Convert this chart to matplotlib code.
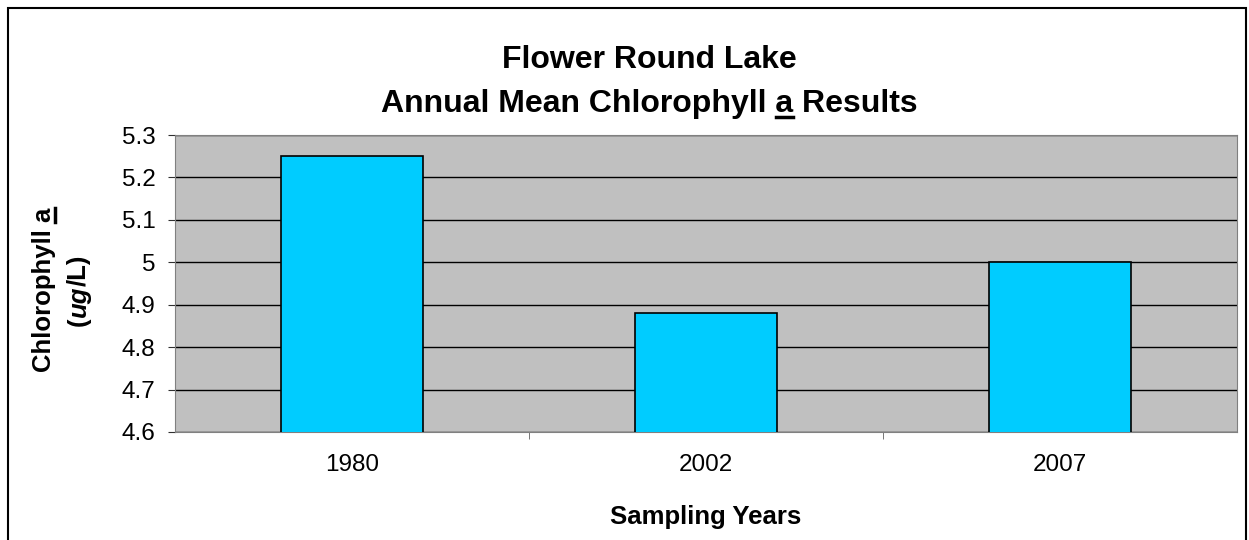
import matplotlib.pyplot as plt
from matplotlib.patches import Rectangle
from matplotlib.lines import Line2D

plt.rcParams['font.family'] = ['Liberation Sans', 'DejaVu Sans']

years = ['1980', '2002', '2007']
chl_a = [5.25, 4.88, 5.0]
y_ticks = [4.6, 4.7, 4.8, 4.9, 5.0, 5.1, 5.2, 5.3]
y_tick_labels = ['4.6', '4.7', '4.8', '4.9', '5', '5.1', '5.2', '5.3']

TICK_FS = 17.5
TITLE_FS = 23
LABEL_FS = 18.5

fig = plt.figure(figsize=(12.49, 5.4), dpi=100)
ax = fig.add_axes([175 / 1249, 108 / 540, 1062 / 1249, 297 / 540])
ax.set_facecolor('#C0C0C0')

x = range(len(years))
ax.bar(x, chl_a, width=0.4, color='#00CCFF', edgecolor='black', linewidth=1.2, zorder=3)

ax.set_ylim(4.6, 5.3)
ax.set_xlim(-0.5, len(years) - 0.5)
ax.set_yticks(y_ticks)
ax.set_yticklabels(y_tick_labels, fontsize=TICK_FS)
ax.yaxis.grid(True, color='black', linewidth=1, zorder=1)
ax.set_axisbelow(True)

# category labels centred, tick marks at category boundaries
ax.set_xticks(list(x))
ax.set_xticklabels(years, fontsize=TICK_FS)
ax.tick_params(axis='x', length=0, pad=16)
ax.set_xticks([0.5, 1.5], minor=True)
ax.tick_params(axis='x', which='minor', length=5, color='#606060')
ax.tick_params(axis='y', length=5, color='#303030', pad=9)
for s in ax.spines.values():
    s.set_color('#808080')

# outer frame
fig.patches.append(Rectangle((8 / 1249, -0.05), 1238 / 1249, 1 - 8 / 540 + 0.05,
                             transform=fig.transFigure, fill=False,
                             edgecolor='black', linewidth=1.5))

fig.text(0.52, 1 - 60 / 540, 'Flower Round Lake', fontsize=TITLE_FS, fontweight='bold',
         ha='center', va='center')
t2 = fig.text(0.52, 1 - 104 / 540, 'Annual Mean Chlorophyll a Results', fontsize=TITLE_FS,
              fontweight='bold', ha='center', va='center')

fig.text(0.565, 1 - 517 / 540, 'Sampling Years', fontsize=LABEL_FS, fontweight='bold',
         ha='center', va='center')

yl1 = fig.text(44 / 1249, 0.463, 'Chlorophyll a', fontsize=LABEL_FS, fontweight='bold',
               rotation=90, ha='center', va='center')

fig.canvas.draw()
r = fig.canvas.get_renderer()
W, H = fig.bbox.width, fig.bbox.height


def width_of(s, size, style='normal'):
    t = fig.text(0, 0, s, fontsize=size, fontweight='bold', fontstyle=style)
    w = t.get_window_extent(r).width
    t.remove()
    return w


# underline the "a" in the title
bb = t2.get_window_extent(r)
end = bb.x0 + width_of('Annual Mean Chlorophyll a', TITLE_FS)
start = end - width_of('a', TITLE_FS)
uy = bb.y0 + 2
fig.add_artist(Line2D([start / W, end / W], [uy / H, uy / H], color='black', linewidth=2.5))

# underline the "a" in the rotated y label
bb = yl1.get_window_extent(r)
end = bb.y0 + width_of('Chlorophyll a', LABEL_FS)
start = end - width_of('a', LABEL_FS)
ux = bb.x1 - 1
fig.add_artist(Line2D([ux / W, ux / W], [start / H, end / H], color='black', linewidth=2.5))

# second y label line with italic "ug"
parts = [('(', 'normal'), ('ug', 'italic'), ('/L)', 'normal')]
total = sum(width_of(p, LABEL_FS, st) for p, st in parts)
ypos = 0.463 * H - total / 2
for p, st in parts:
    fig.text(79 / 1249, ypos / H, p, fontsize=LABEL_FS, fontweight='bold', fontstyle=st,
             rotation=90, ha='left', va='center', rotation_mode='anchor')
    ypos += width_of(p, LABEL_FS, st)

fig.savefig('out.png', dpi=100)
